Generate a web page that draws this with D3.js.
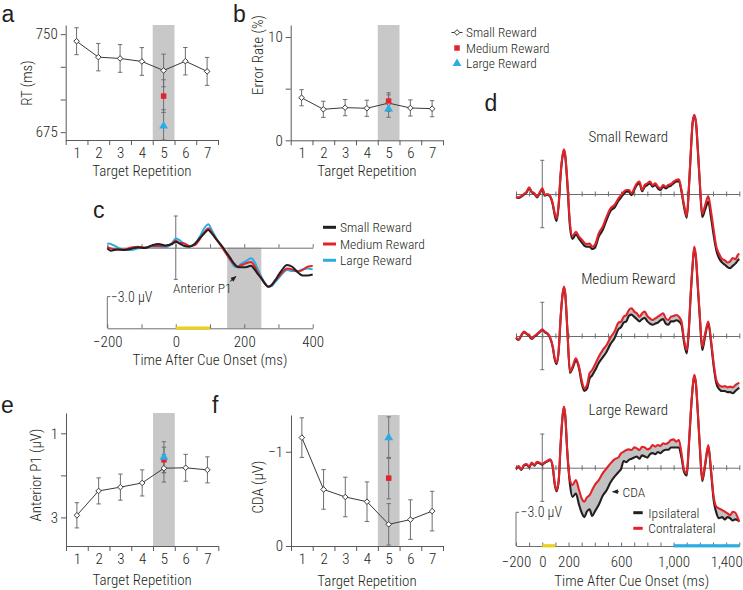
<!DOCTYPE html>
<html><head><meta charset="utf-8">
<script src="https://cdn.jsdelivr.net/npm/d3@7"></script>
<style>body{margin:0;background:#fff}</style>
</head><body>
<svg id="chart" width="743" height="590"></svg>
<script>
// ---------------- DATA ----------------
const repetitions = [1,2,3,4,5,6,7];
const rewardNames = ["Small Reward","Medium Reward","Large Reward"];
// Panel a: RT (ms)
const rtSmall = [744.6,732.4,731.4,729.1,722.2,729.3,721.5];
const rtSmallErr = [10.3,10.5,10.6,10.6,12.5,10.5,10.7];
const rtRep5 = [702.6, 679.7];          // medium, large
const rtRep5Err = [12.5, 12.5];
const rtTicks = [675,700,725,750];
const rtTickLabels = [675,750];
// Panel b: Error rate (%)
const errSmall = [4.12,3.0,3.16,3.1,3.6,3.13,3.06];
const errSmallErr = [0.78,0.78,0.78,0.78,0.8,0.78,0.78];
const errRep5 = [3.8, 3.03];
const errRep5Err = [0.8, 0.8];
const errTicks = [0,5,10];
const errTickLabels = [0,10];
// Panel e: Anterior P1 (µV)
const p1Small = [2.95,2.37,2.28,2.18,1.83,1.82,1.87];
const p1SmallErr = [0.30,0.31,0.31,0.31,0.33,0.32,0.31];
const p1Rep5 = [1.63, 1.57];
const p1Rep5Err = [0.30, 0.37];
const p1Ticks = [1,2,3];
const p1TickLabels = [1,3];
// Panel f: CDA (µV)
const cdaSmall = [-1.15,-0.60,-0.52,-0.47,-0.23,-0.28,-0.37];
const cdaSmallErr = [0.21,0.21,0.21,0.21,0.22,0.21,0.21];
const cdaRep5 = [-0.72, -1.15];
const cdaRep5Err = [0.22, 0.22];
const cdaTicks = [-1,0];
const cdaTickLabels = [-1,0];

// Panel c: anterior ERP by reward (µV, negative up)
const cTimes = [-200,-190,-170,-150,-130,-110,-90,-70,-50,-30,
 -10,0,10,25,40,55,70,85,95,105,
 120,135,150,160,170,180,190,200,210,220,
 230,240,250,260,270,280,290,300,310,325,
 340,355,370,385,400];
const cSmall = [0.06,0.28,0.16,0.22,0.09,-0.03,0.03,-0.22,-0.35,-0.22,
 -0.35,-0.57,-0.41,-0.16,-0.09,-0.35,-0.89,-1.42,-1.67,-1.36,
 -0.73,-0.16,0.54,1.01,1.49,1.80,1.86,1.86,1.80,1.71,
 2.05,2.50,2.91,3.38,3.70,3.54,3.13,2.59,2.12,1.64,
 1.80,2.28,2.62,2.62,2.53];
const cMedium = [-0.09,0.06,0.16,0.16,-0.03,-0.09,0.00,-0.16,-0.16,-0.16,
 -0.41,-0.66,-0.47,-0.41,-0.16,-0.22,-0.79,-1.52,-1.83,-1.42,
 -0.73,-0.03,0.70,1.17,1.55,1.80,1.67,1.55,1.42,1.36,
 1.74,2.37,2.91,3.38,3.70,3.54,3.07,2.75,2.37,1.96,
 2.05,2.28,2.12,1.80,1.74];
const cLarge = [-0.41,-0.35,-0.03,0.22,0.22,0.06,-0.03,-0.09,-0.09,-0.03,
 -0.47,-0.88,-0.73,-0.35,-0.16,-0.35,-1.04,-1.93,-2.21,-1.68,
 -0.79,-0.09,0.70,1.23,1.74,1.86,1.55,1.36,1.17,1.01,
 1.33,2.05,2.75,3.32,3.70,3.64,3.26,2.91,2.50,2.12,
 2.21,2.21,2.05,1.96,2.05];
const cAxisTicks = [-200,-100,0,100,200,300,400];
const cAxisLabels = [-200,0,200,400];

// Panel d: ipsilateral / contralateral waveforms (µV, negative up)
const dTimes = [-200,-180,-160,-140,-120,-100,-80,-60,-40,-20,
 0,20,40,60,80,95,109,125,140,155,
 165,175,190,211,230,256,280,300,320,340,
 360,380,400,430,460,490,520,550,580,600,
 620,640,660,680,700,720,740,760,780,800,
 820,840,860,880,900,920,940,960,980,1000,
 1020,1040,1060,1080,1100,1115,1130,1145,1157,1170,
 1185,1200,1218,1240,1264,1285,1305,1325,1345,1370,
 1390,1410,1430,1450,1470,1490,1500];
const dSmallContra = [0.24,0.30,0.18,0.00,-0.18,-0.59,-0.21,-0.06,0.24,-0.12,
 -0.50,0.09,0.00,0.18,0.83,1.72,2.17,0.83,-1.84,-3.47,
 -3.98,-3.47,-1.25,2.61,3.74,3.36,3.80,4.04,4.34,4.46,
 4.40,4.69,4.54,3.50,2.91,2.02,1.28,0.98,0.39,0.09,
 -0.21,-0.36,-0.36,-0.06,-0.50,-0.95,-1.10,-0.36,-0.80,-0.95,
 -1.10,-0.80,-0.95,-0.65,-0.50,-0.80,-0.65,-0.80,-0.89,-1.10,
 -1.25,-1.31,-0.36,1.00,1.96,-0.36,-3.62,-6.44,-7.04,-6.44,
 -3.90,-0.95,1.78,0.98,0.18,1.57,3.20,4.70,5.30,5.80,
 5.90,6.10,6.00,5.70,5.80,5.40,5.30];
const dSmallIpsi = [0.30,0.36,0.24,0.06,-0.12,-0.50,-0.15,0.00,0.30,-0.06,
 -0.45,0.15,0.06,0.24,0.95,1.90,2.40,1.00,-1.75,-3.40,
 -3.90,-3.35,-1.10,2.90,4.00,3.60,4.00,4.30,4.60,4.70,
 4.70,4.90,4.80,3.80,3.20,2.30,1.50,1.20,0.60,0.30,
 0.00,-0.20,-0.20,0.10,-0.35,-0.80,-0.95,-0.25,-0.65,-0.80,
 -0.95,-0.65,-0.80,-0.50,-0.35,-0.65,-0.50,-0.65,-0.75,-0.95,
 -1.10,-1.15,-0.20,1.20,2.10,-0.20,-3.50,-6.35,-6.95,-6.35,
 -3.75,-0.80,2.05,1.40,0.70,2.10,3.70,5.00,5.70,6.10,
 6.30,6.50,6.60,6.40,6.20,5.90,5.80];
const dMediumContra = [0.12,0.30,-0.09,-0.39,-0.24,-0.09,0.21,0.00,-0.18,-0.39,
 -0.59,-0.39,-0.24,0.12,0.95,1.99,2.38,1.25,-1.72,-3.80,
 -4.40,-3.80,-0.83,3.18,2.73,1.99,2.73,3.92,4.66,4.37,
 3.33,3.03,2.58,1.84,1.25,0.80,0.12,-0.39,-1.19,-1.28,
 -1.72,-1.87,-2.32,-2.47,-2.17,-2.02,-1.72,-2.02,-2.17,-1.78,
 -1.57,-1.43,-1.57,-1.72,-1.87,-2.02,-1.57,-1.43,-1.72,-1.78,
 -1.87,-1.72,-1.28,0.36,1.25,-0.53,-3.80,-6.47,-7.96,-7.07,
 -4.40,-1.72,0.95,-0.24,-1.28,0.36,2.44,3.92,4.37,4.51,
 4.46,4.57,4.51,4.57,4.37,4.22,4.16];
const dMediumIpsi = [0.18,0.36,-0.03,-0.33,-0.18,-0.03,0.27,0.06,-0.12,-0.33,
 -0.53,-0.33,-0.18,0.18,1.00,2.10,2.50,1.35,-1.65,-3.70,
 -4.30,-3.70,-0.75,3.30,2.90,2.20,2.90,4.20,4.90,4.70,
 3.80,3.50,3.10,2.40,1.90,1.40,0.70,0.20,-0.60,-0.80,
 -1.20,-1.30,-1.80,-1.90,-1.70,-1.50,-1.30,-1.50,-1.60,-1.30,
 -1.10,-1.00,-1.10,-1.20,-1.40,-1.50,-1.10,-1.00,-1.30,-1.30,
 -1.40,-1.30,-1.00,0.60,1.55,-0.30,-3.60,-6.30,-7.80,-6.90,
 -4.20,-1.50,1.25,0.00,-1.15,0.60,2.70,4.20,4.70,4.90,
 4.90,5.00,5.00,5.10,4.90,4.70,4.60];
const dLargeContra = [0.06,-0.15,0.15,-0.24,-0.33,-0.09,-0.45,-0.24,-0.53,-0.45,
 -0.33,-0.50,-0.62,-0.74,-0.09,1.40,1.99,1.10,-2.17,-4.69,
 -5.44,-4.69,-1.57,1.10,1.54,1.10,1.99,2.73,3.03,2.64,
 2.44,1.99,1.54,1.10,0.50,0.06,-0.39,-0.74,-0.92,-1.28,
 -1.43,-1.57,-1.63,-1.57,-1.81,-1.72,-1.57,-1.87,-1.81,-1.63,
 -1.72,-2.02,-1.87,-2.02,-1.93,-2.17,-2.11,-2.23,-2.47,-2.52,
 -2.32,-2.47,-1.28,0.21,0.50,-1.87,-4.84,-7.22,-8.26,-7.52,
 -4.84,-1.87,1.04,-0.39,-2.02,0.21,2.58,3.47,3.62,3.77,
 3.92,4.07,4.22,3.92,4.01,4.51,4.81];
const dLargeIpsi = [0.12,-0.09,0.21,-0.18,-0.27,-0.03,-0.39,-0.18,-0.47,-0.39,
 -0.27,-0.44,-0.56,-0.68,0.00,1.50,2.10,1.20,-2.10,-4.60,
 -5.35,-4.60,-1.45,1.50,2.60,2.30,3.30,4.00,4.40,3.90,
 3.70,4.30,3.90,3.30,2.50,2.00,1.30,0.80,0.40,0.10,
 -0.60,-0.50,-0.70,-0.80,-0.90,-1.00,-0.80,-1.10,-1.00,-0.90,
 -1.20,-1.30,-1.20,-1.40,-1.30,-1.50,-1.60,-1.60,-1.80,-1.80,
 -1.80,-1.80,-0.90,0.40,0.70,-1.70,-4.70,-7.10,-8.15,-7.40,
 -4.70,-1.70,1.20,-0.20,-1.90,0.40,2.90,4.00,4.50,4.40,
 4.60,4.40,4.50,4.70,4.60,4.70,4.80];
const dAxisTicks = d3.range(-200,1501,100);
const dAxisLabels = [-200,0,200,600,1000,1400];

// ---------------- STYLE ----------------
const FONT = "'Roboto Condensed','Liberation Sans Narrow','Arial Narrow',sans-serif";
const FW = 300;
const C = {text:'#231f20', black:'#231f20', red:'#e2232a', blue:'#2cace2', band:'#c8c8c8',
  axis:'#58595b', line:'#3a3a3a', err:'#6d6e71', fill:'#c2c2c2', yellow:'#e9cf1e'};
const svg = d3.select('#chart');
svg.append('defs').append('marker').attr('id','ah').attr('viewBox','0 0 10 10')
  .attr('refX',9).attr('refY',5).attr('markerWidth',6).attr('markerHeight',6).attr('orient','auto')
  .append('path').attr('d','M0,1L10,5L0,9z').attr('fill',C.text);

function label(x,y,s,o={}){
  return svg.append('text').attr('x',x).attr('y',y).text(s)
    .attr('font-size',o.size||15).attr('text-anchor',o.anchor||'start')
    .attr('dominant-baseline',o.base||'central')
    .attr('transform',o.rot?`rotate(-90,${x},${y})`:null)
    .attr('font-weight',o.weight||FW)
    .attr('fill',C.text).attr('font-family',o.font||FONT);
}
function styleAxis(g,size,color){
  g.attr('font-family',FONT).attr('font-size',size||15).attr('font-weight',FW);
  g.selectAll('.domain').attr('stroke',color||C.axis);
  g.selectAll('.tick line').attr('stroke',color||C.axis);
  g.selectAll('.tick text').attr('fill',C.text);
}

// ---------------- REPETITION PANELS ----------------
function repPanel(o){
  const g = svg.append('g');
  const x = d3.scaleLinear().domain([0.5,7.5]).range([o.xl,o.xr]);
  const y = d3.scaleLinear().domain(o.domain).range([o.yBot,o.yTop]).clamp(true);
  g.append('rect').attr('x',x(4.5)).attr('y',o.yTop).attr('width',x(5.5)-x(4.5))
    .attr('height',o.yBot-o.yTop).attr('fill',C.band);
  const fmt = d3.format('d');
  const ya = g.append('g').attr('transform',`translate(${o.xl},0)`)
    .call(d3.axisLeft(y).tickValues(o.ticks).tickSize(5).tickSizeOuter(0).tickPadding(3)
      .tickFormat(d=>o.labels.includes(d)?fmt(d):''));
  styleAxis(ya);
  const xa = g.append('g').attr('transform',`translate(0,${o.yBot})`)
    .call(d3.axisBottom(x).tickValues(d3.range(0.5,7.6,1)).tickSize(5).tickSizeOuter(0).tickFormat(''));
  styleAxis(xa);
  const xlab = g.append('g').attr('transform',`translate(0,${o.yBot})`)
    .call(d3.axisBottom(x).tickValues(repetitions).tickSize(0).tickPadding(7).tickFormat(d3.format('d')));
  xlab.select('.domain').remove();
  styleAxis(xlab);
  // error bars
  const errs = repetitions.map((r,i)=>({x:r,v:o.small[i],e:o.smallErr[i]}))
    .concat(o.rep5.map((v,i)=>({x:5,v:v,e:o.rep5Err[i]})));
  errs.forEach(d=>{
    const y1=y(d.v-d.e), y2=y(d.v+d.e), cx=x(d.x);
    g.append('line').attr('x1',cx).attr('x2',cx).attr('y1',y1).attr('y2',y2).attr('stroke',C.err).attr('stroke-width',1);
    [y1,y2].forEach(yy=>g.append('line').attr('x1',cx-2.2).attr('x2',cx+2.2).attr('y1',yy).attr('y2',yy).attr('stroke',C.err).attr('stroke-width',1));
  });
  g.append('path').datum(o.small)
    .attr('d',d3.line().x((d,i)=>x(repetitions[i])).y(d=>y(d)))
    .attr('fill','none').attr('stroke',C.line).attr('stroke-width',1);
  g.selectAll('.dm').data(o.small).join('path')
    .attr('transform',(d,i)=>`translate(${x(repetitions[i])},${y(d)})`)
    .attr('d',d3.symbol(d3.symbolDiamond2,20)())
    .attr('fill','#fff').attr('stroke',C.line).attr('stroke-width',1);
  g.append('path').attr('transform',`translate(${x(5)},${y(o.rep5[0])})`)
    .attr('d',d3.symbol(d3.symbolSquare,30)()).attr('fill',C.red);
  g.append('path').attr('transform',`translate(${x(5)},${y(o.rep5[1])})`)
    .attr('d',d3.symbol(d3.symbolTriangle,34)()).attr('fill',C.blue);
  label(o.ylx,o.yly,o.ylabel,{rot:true,anchor:'middle'});
  label((o.xl+o.xr)/2,o.xly,'Target Repetition',{anchor:'middle'});
}

repPanel({xl:65.7,xr:218,yTop:25,yBot:140,domain:[669,757],ticks:rtTicks,labels:rtTickLabels,
  small:rtSmall,smallErr:rtSmallErr,rep5:rtRep5,rep5Err:rtRep5Err,ylabel:'RT (ms)',ylx:27,yly:83,xly:171});
repPanel({xl:290.7,xr:443,yTop:25,yBot:140.3,domain:[0,11.16],ticks:errTicks,labels:errTickLabels,
  small:errSmall,smallErr:errSmallErr,rep5:errRep5,rep5Err:errRep5Err,ylabel:'Error Rate (%)',ylx:258,yly:55,xly:171});
repPanel({xl:66,xr:218.3,yTop:413,yBot:546,domain:[3.68,0.517],ticks:p1Ticks,labels:p1TickLabels,
  small:p1Small,smallErr:p1SmallErr,rep5:p1Rep5,rep5Err:p1Rep5Err,ylabel:'Anterior P1 (\u00b5V)',ylx:36,yly:475,xly:580});
repPanel({xl:291,xr:443,yTop:415,yBot:546,domain:[0,-1.39],ticks:cdaTicks,labels:cdaTickLabels,
  small:cdaSmall,smallErr:cdaSmallErr,rep5:cdaRep5,rep5Err:cdaRep5Err,ylabel:'CDA (\u00b5V)',ylx:258,yly:487,xly:581});

// legend (panel b)
{
  const lx=457, rows=[32.5,48,63.5];
  svg.append('line').attr('x1',lx-5.5).attr('x2',lx+5.5).attr('y1',rows[0]).attr('y2',rows[0]).attr('stroke',C.line);
  svg.append('path').attr('transform',`translate(${lx},${rows[0]})`).attr('d',d3.symbol(d3.symbolDiamond2,20)())
    .attr('fill','#fff').attr('stroke',C.line);
  svg.append('path').attr('transform',`translate(${lx},${rows[1]})`).attr('d',d3.symbol(d3.symbolSquare,30)()).attr('fill',C.red);
  svg.append('path').attr('transform',`translate(${lx},${rows[2]})`).attr('d',d3.symbol(d3.symbolTriangle,34)()).attr('fill',C.blue);
  rewardNames.forEach((n,i)=>label(466,rows[i],n,{size:13.3}));
}

// ---------------- PANEL C ----------------
{
  const xc = d3.scaleLinear().domain([-200,400]).range([107.3,312.7]);
  const yc = d3.scaleLinear().domain([0,3]).range([247.7,279.4]);
  const bottomY = 328.3;
  svg.append('rect').attr('x',xc(150)).attr('width',xc(250)-xc(150)).attr('y',yc(0)).attr('height',bottomY-yc(0)).attr('fill',C.band);
  const base = svg.append('g').attr('transform',`translate(0,${yc(0)})`)
    .call(d3.axisBottom(xc).tickValues(cAxisTicks).tickSize(-3.5).tickSizeOuter(0).tickFormat(''));
  styleAxis(base,15,C.err);
  const bot = svg.append('g').attr('transform',`translate(0,${bottomY})`)
    .call(d3.axisBottom(xc).tickValues(cAxisTicks).tickSize(-4).tickSizeOuter(0).tickPadding(8)
      .tickFormat(d=>cAxisLabels.includes(d)?d3.format('d')(d):''));
  styleAxis(bot,15,C.err);
  svg.append('rect').attr('x',xc(0)).attr('width',xc(100)-xc(0)).attr('y',bottomY-1.8).attr('height',3.2).attr('fill',C.yellow);
  // vertical calibration at 0 ms
  const vx = xc(0);
  svg.append('line').attr('x1',vx).attr('x2',vx).attr('y1',yc(-3)).attr('y2',yc(3)).attr('stroke',C.err);
  [yc(-3),yc(3)].forEach(yy=>svg.append('line').attr('x1',vx-2).attr('x2',vx+2).attr('y1',yy).attr('y2',yy).attr('stroke',C.err));
  // scale bracket
  const sb = bottomY-(yc(3)-yc(0));
  svg.append('path').attr('d',`M${xc(-200)+3},${sb}H${xc(-200)}V${bottomY}`).attr('fill','none').attr('stroke',C.err);
  label(xc(-200)+3.5,sb,'\u22123.0 \u00b5V',{size:14});
  const line = d3.line().x((d,i)=>xc(cTimes[i])).y(d=>yc(d)).curve(d3.curveMonotoneX);
  [[cLarge,C.blue],[cMedium,C.red],[cSmall,C.black]].forEach(([s,col])=>
    svg.append('path').datum(s).attr('d',line).attr('fill','none').attr('stroke',col).attr('stroke-width',2));
  // annotation
  label(173,287.5,'Anterior P1',{size:13.5});
  svg.append('line').attr('x1',230).attr('y1',281.5).attr('x2',236).attr('y2',276.5).attr('stroke',C.text).attr('stroke-width',1).attr('marker-end','url(#ah)');
  label(xc(100),360,'Time After Cue Onset (ms)',{anchor:'middle'});
  // legend
  const rows=[227.3,244,260.3], cols=[C.black,C.red,C.blue];
  rewardNames.forEach((n,i)=>{
    svg.append('line').attr('x1',323).attr('x2',336).attr('y1',rows[i]).attr('y2',rows[i]).attr('stroke',cols[i]).attr('stroke-width',3);
    label(340,rows[i],n,{size:13.5});
  });
}

// ---------------- PANEL D ----------------
const xd = d3.scaleLinear().domain([-200,1500]).range([516,739.3]);
function dPanel(base,title,ipsi,contra){
  const y = d3.scaleLinear().domain([0,3]).range([base,base+33.7]);
  const ax = svg.append('g').attr('transform',`translate(0,${base})`)
    .call(d3.axisBottom(xd).tickValues(dAxisTicks).tickSize(2.5).tickSizeOuter(0).tickFormat(''));
  ax.selectAll('.tick line').attr('y1',-2.5);
  styleAxis(ax,15,C.err);
  const vx = xd(0);
  svg.append('line').attr('x1',vx).attr('x2',vx).attr('y1',y(-3)).attr('y2',y(3)).attr('stroke',C.err);
  [y(-3),y(3)].forEach(yy=>svg.append('line').attr('x1',vx-2).attr('x2',vx+2).attr('y1',yy).attr('y2',yy).attr('stroke',C.err));
  const pts = dTimes.map((t,i)=>({t:t,a:ipsi[i],b:contra[i]}));
  svg.append('path').datum(pts)
    .attr('d',d3.area().x(d=>xd(d.t)).y0(d=>y(d.a)).y1(d=>y(d.b)).curve(d3.curveMonotoneX))
    .attr('fill',C.fill);
  const ln = d3.line().x(d=>xd(d.t)).curve(d3.curveMonotoneX);
  svg.append('path').datum(pts).attr('d',ln.y(d=>y(d.a))).attr('fill','none').attr('stroke',C.black).attr('stroke-width',2.1);
  svg.append('path').datum(pts).attr('d',ln.y(d=>y(d.b))).attr('fill','none').attr('stroke',C.red).attr('stroke-width',2.1);
  label(628.3,base-57.3,title,{anchor:'middle'});
}
dPanel(194,'Small Reward',dSmallIpsi,dSmallContra);
dPanel(336,'Medium Reward',dMediumIpsi,dMediumContra);
dPanel(467.7,'Large Reward',dLargeIpsi,dLargeContra);
{
  const bottomY = 546;
  const bot = svg.append('g').attr('transform',`translate(0,${bottomY})`)
    .call(d3.axisBottom(xd).tickValues(dAxisTicks).tickSize(-3.5).tickSizeOuter(0).tickPadding(10)
      .tickFormat(d=>dAxisLabels.includes(d)?d3.format(',')(d):''));
  styleAxis(bot,15,C.err);
  svg.append('rect').attr('x',xd(0)).attr('width',xd(100)-xd(0)).attr('y',bottomY-1.8).attr('height',3.2).attr('fill',C.yellow);
  svg.append('rect').attr('x',xd(1000)).attr('width',xd(1500)-xd(1000)).attr('y',bottomY-1.8).attr('height',3.2).attr('fill',C.blue);
  const sb = bottomY-33.7;
  svg.append('path').attr('d',`M${xd(-200)+3},${sb}H${xd(-200)}V${bottomY}`).attr('fill','none').attr('stroke',C.err);
  label(xd(-200)+4.5,sb,'\u22123.0 \u00b5V',{size:14});
  // legend
  [['Ipsilateral',C.black,512.7],['Contralateral',C.red,528.3]].forEach(([n,col,yy])=>{
    svg.append('line').attr('x1',633.3).attr('x2',642.7).attr('y1',yy).attr('y2',yy).attr('stroke',col).attr('stroke-width',3);
    label(648.3,yy,n,{size:13.5});
  });
  svg.append('line').attr('x1',619).attr('x2',612.5).attr('y1',491.7).attr('y2',491.7).attr('stroke',C.text).attr('marker-end','url(#ah)');
  label(622.5,491.7,'CDA',{size:13.5});
  label(631.7,580.7,'Time After Cue Onset (ms)',{anchor:'middle'});
}

// ---------------- PANEL LETTERS ----------------
const LFONT = "'Liberation Sans','Arimo',sans-serif";
[['a',1.5,21.5],['b',233,21.5],['c',93,218],['d',484.5,110.5],['e',1,413],['f',212,413]]
  .forEach(([s,x,y])=>label(x,y,s,{size:23,base:'alphabetic',font:LFONT,weight:400}));
</script>
</body></html>
